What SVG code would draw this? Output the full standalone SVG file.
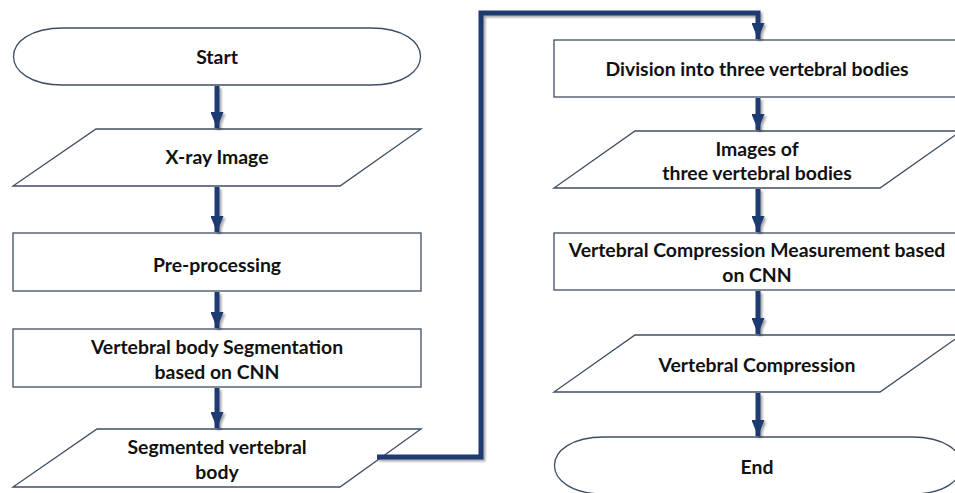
<svg xmlns="http://www.w3.org/2000/svg" width="955" height="493" viewBox="0 0 955 493">
<defs>
<style>
.n{fill:#fff;stroke:#3f4d63;stroke-width:1.3}
.t{font-family:Lato,"Open Sans",sans-serif;font-weight:bold;font-size:19.4px;fill:#111;text-anchor:middle}
.c{fill:none;stroke:#1f3a70;stroke-width:5}
</style>
<filter id="sh" x="-50%" y="-50%" width="200%" height="200%">
<feGaussianBlur in="SourceAlpha" stdDeviation="1.2"/>
<feOffset dx="1.5" dy="1.5" result="b"/>
<feComponentTransfer><feFuncA type="linear" slope="0.35"/></feComponentTransfer>
<feMerge><feMergeNode/><feMergeNode in="SourceGraphic"/></feMerge>
</filter>
<marker id="ah" viewBox="0 0 16 13" refX="16" refY="6.5" markerWidth="16" markerHeight="13" markerUnits="userSpaceOnUse" orient="auto">
<path d="M0,0 L16,6.5 L0,13 Z" fill="#1f3a70"/>
</marker>
</defs>
<rect width="955" height="493" fill="#fff"/>

<g id="start">
<path class="n" d="M63,28 H371 C437,28 437,85 371,85 H63 C-3,85 -3,28 63,28 Z"/>
<text class="t" x="217" y="64">Start</text>
</g>
<g id="xray">
<polygon class="n" points="96,129 421,129 340,186 13,186"/>
<text class="t" x="217" y="164">X-ray Image</text>
</g>
<g id="preproc">
<rect class="n" x="13" y="233" width="408" height="58"/>
<text class="t" x="217" y="272">Pre-processing</text>
</g>
<g id="seg">
<rect class="n" x="13" y="329" width="408" height="58"/>
<text class="t" x="217" y="354">Vertebral body Segmentation</text>
<text class="t" x="217" y="379">based on CNN</text>
</g>
<g id="segbody">
<polygon class="n" points="97,429 421,429 340,487 13,487"/>
<text class="t" x="217" y="454">Segmented vertebral</text>
<text class="t" x="217" y="479">body</text>
</g>

<g id="division">
<rect class="n" x="554" y="40" width="420" height="57"/>
<text class="t" x="757" y="76">Division into three vertebral bodies</text>
</g>
<g id="images">
<polygon class="n" points="635,131 961,131 880,188 554,188"/>
<text class="t" x="757" y="156">Images of</text>
<text class="t" x="757" y="180">three vertebral bodies</text>
</g>
<g id="measure">
<rect class="n" x="554" y="233" width="420" height="57"/>
<text class="t" x="757" y="257">Vertebral Compression Measurement based</text>
<text class="t" x="757" y="282">on CNN</text>
</g>
<g id="compression">
<polygon class="n" points="635,335 961,335 880,392 554,392"/>
<text class="t" x="757" y="372">Vertebral Compression</text>
</g>
<g id="end">
<path class="n" d="M604,437 H912 C978,437 978,494 912,494 H604 C538,494 538,437 604,437 Z"/>
<text class="t" x="757" y="474">End</text>
</g>

<g id="connectors" filter="url(#sh)">
<g class="c" marker-end="url(#ah)">
<line x1="217" y1="86" x2="217" y2="128"/>
<line x1="217" y1="187" x2="217" y2="232"/>
<line x1="217" y1="292" x2="217" y2="328"/>
<line x1="217" y1="388" x2="217" y2="428"/>
<polyline points="377,457 481,457 481,13 758,13 758,39"/>
<line x1="758" y1="98" x2="758" y2="130"/>
<line x1="758" y1="189" x2="758" y2="232"/>
<line x1="758" y1="291" x2="758" y2="334"/>
<line x1="758" y1="393" x2="758" y2="436"/>
</g>
</g>
</svg>
